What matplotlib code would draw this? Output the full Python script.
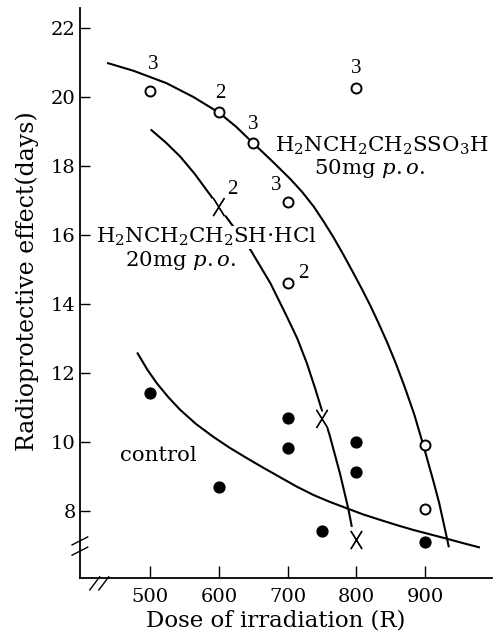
import matplotlib
matplotlib.use("Agg")
import matplotlib.pyplot as plt
from matplotlib.path import Path
import matplotlib.patheffects as pe

plt.rcParams['font.family'] = ['DejaVu Serif']
plt.rcParams['mathtext.fontset'] = 'dejavuserif'

# measured points
sso3h_x = [500, 600, 650, 700, 700, 800, 900, 900]
sso3h_y = [20.17, 19.57, 18.67, 16.96, 14.6, 20.26, 9.91, 8.06]
sso3h_n = ['3', '2', '3', '3', '2', '3', '', '']

sh_x = [600, 750, 800]
sh_y = [16.81, 10.67, 7.16]
sh_n = ['2', '', '']

ctrl_x = [500, 600, 700, 700, 750, 800, 800, 900]
ctrl_y = [11.42, 8.70, 10.70, 9.83, 7.42, 10.0, 9.13, 7.10]

# hand drawn curves
sso3h_curve_x = [439, 476, 524, 563, 600, 625, 650, 677, 704, 721, 738, 752, 767, 781, 796,
                 808, 820, 832, 845, 857, 870, 884, 898, 905, 912, 920, 927, 934]
sso3h_curve_y = [20.98, 20.76, 20.40, 20.0, 19.55, 19.14, 18.66, 18.15, 17.62, 17.25, 16.82,
                 16.4, 15.92, 15.43, 14.88, 14.43, 13.96, 13.45, 12.87, 12.29, 11.6, 10.8,
                 9.85, 9.35, 8.85, 8.25, 7.62, 6.98]

sh_curve_x = [502, 523, 544, 565, 586, 616, 646, 675, 699, 714, 728, 740, 750, 761, 776,
              788, 793]
sh_curve_y = [19.04, 18.68, 18.27, 17.77, 17.2, 16.38, 15.57, 14.6, 13.63, 13.0, 12.28,
              11.55, 10.9, 10.2, 9.09, 8.08, 7.57]

ctrl_curve_x = [482, 496, 510, 527, 544, 567, 592, 616, 641, 665, 689, 713, 738, 762, 786,
                810, 835, 859, 883, 906, 929, 953, 978]
ctrl_curve_y = [12.57, 12.1, 11.70, 11.29, 10.93, 10.52, 10.15, 9.83, 9.53, 9.25, 8.98, 8.71,
                8.46, 8.26, 8.08, 7.9, 7.74, 7.59, 7.45, 7.33, 7.21, 7.08, 6.95]

fig = plt.figure(figsize=(4.93, 6.39), dpi=100)
ax = fig.add_axes([0.162, 0.0955, 0.836, 0.892])

for cx, cy in [(sso3h_curve_x, sso3h_curve_y), (sh_curve_x, sh_curve_y),
               (ctrl_curve_x, ctrl_curve_y)]:
    ax.plot(cx, cy, color='black', lw=1.5, solid_joinstyle='round')

# tall thin X like the printed one
xmark = Path([(-0.62, -1), (0.62, 1), (-0.62, 1), (0.62, -1)],
             [Path.MOVETO, Path.LINETO, Path.MOVETO, Path.LINETO])

ax.plot(sso3h_x, sso3h_y, 'o', mfc='white', mec='black', mew=1.4, ms=7.2, ls='none', zorder=3)
ax.plot(sh_x, sh_y, marker=xmark, color='black', mew=1.0, ms=13, ls='none', zorder=3,
        path_effects=[pe.withStroke(linewidth=5, foreground='white'), pe.Normal()])
ax.plot(ctrl_x, ctrl_y, 'o', color='black', ms=7.8, ls='none', zorder=3)

offsets = [(2, 19), (1, 13), (0, 13), (-8, 12), (11, 7), (0, 14), (0, 0), (0, 0)]
for x, y, n, off in zip(sso3h_x, sso3h_y, sso3h_n, offsets):
    if n:
        ax.annotate(n, (x, y), xytext=off, textcoords='offset points',
                    ha='center', va='center', fontsize=15, fontfamily='Liberation Serif')
for x, y, n in zip(sh_x, sh_y, sh_n):
    if n:
        ax.annotate(n, (x, y), xytext=(10, 13), textcoords='offset points',
                    ha='center', va='center', fontsize=15, fontfamily='Liberation Serif')

fs = 15.3
ax.text(837, 18.58, r'H$_2$NCH$_2$CH$_2$SSO$_3$H', fontsize=fs, ha='center', va='center')
ax.text(820, 17.92, r'50mg $p.o.$', fontsize=fs, ha='center', va='center')
ax.text(582, 15.94, r'H$_2$NCH$_2$CH$_2$SH$\cdot$HCl', fontsize=fs, ha='center', va='center',
        bbox=dict(facecolor='white', edgecolor='none', pad=0.3), zorder=2)
ax.text(544, 15.25, r'20mg $p.o.$', fontsize=fs, ha='center', va='center')
ax.text(456, 9.6, 'control', fontsize=fs, ha='left', va='center')

ax.set_xlim(398, 997)
ax.set_ylim(6.06, 22.58)
ax.set_xticks([500, 600, 700, 800, 900])
ax.set_yticks([8, 10, 12, 14, 16, 18, 20, 22])
ax.tick_params(direction='in', width=1.0, labelsize=14)
ax.tick_params(axis='y', length=7, pad=3)
ax.tick_params(axis='x', length=8.5, pad=7)
ax.spines['top'].set_visible(False)
ax.spines['right'].set_visible(False)
ax.spines['left'].set_linewidth(1.3)
ax.spines['bottom'].set_linewidth(1.3)

ax.set_xlabel('Dose of irradiation (R)', fontsize=16.5)
ax.set_ylabel('Radioprotective effect(days)', fontsize=17)
ax.xaxis.set_label_coords(0.476, -0.056)
ax.yaxis.set_label_coords(-0.099, 0.521)

# axis break marks
kw = dict(color='black', lw=1.0, clip_on=False, transform=ax.transAxes)
for yy in (0.065, 0.047):
    ax.plot([-0.019, 0.019], [yy - 0.007, yy + 0.007], **kw)
for xx in (0.036, 0.058):
    ax.plot([xx - 0.012, xx + 0.012], [-0.021, 0.002], **kw)

fig.savefig('out.png', dpi=100)
